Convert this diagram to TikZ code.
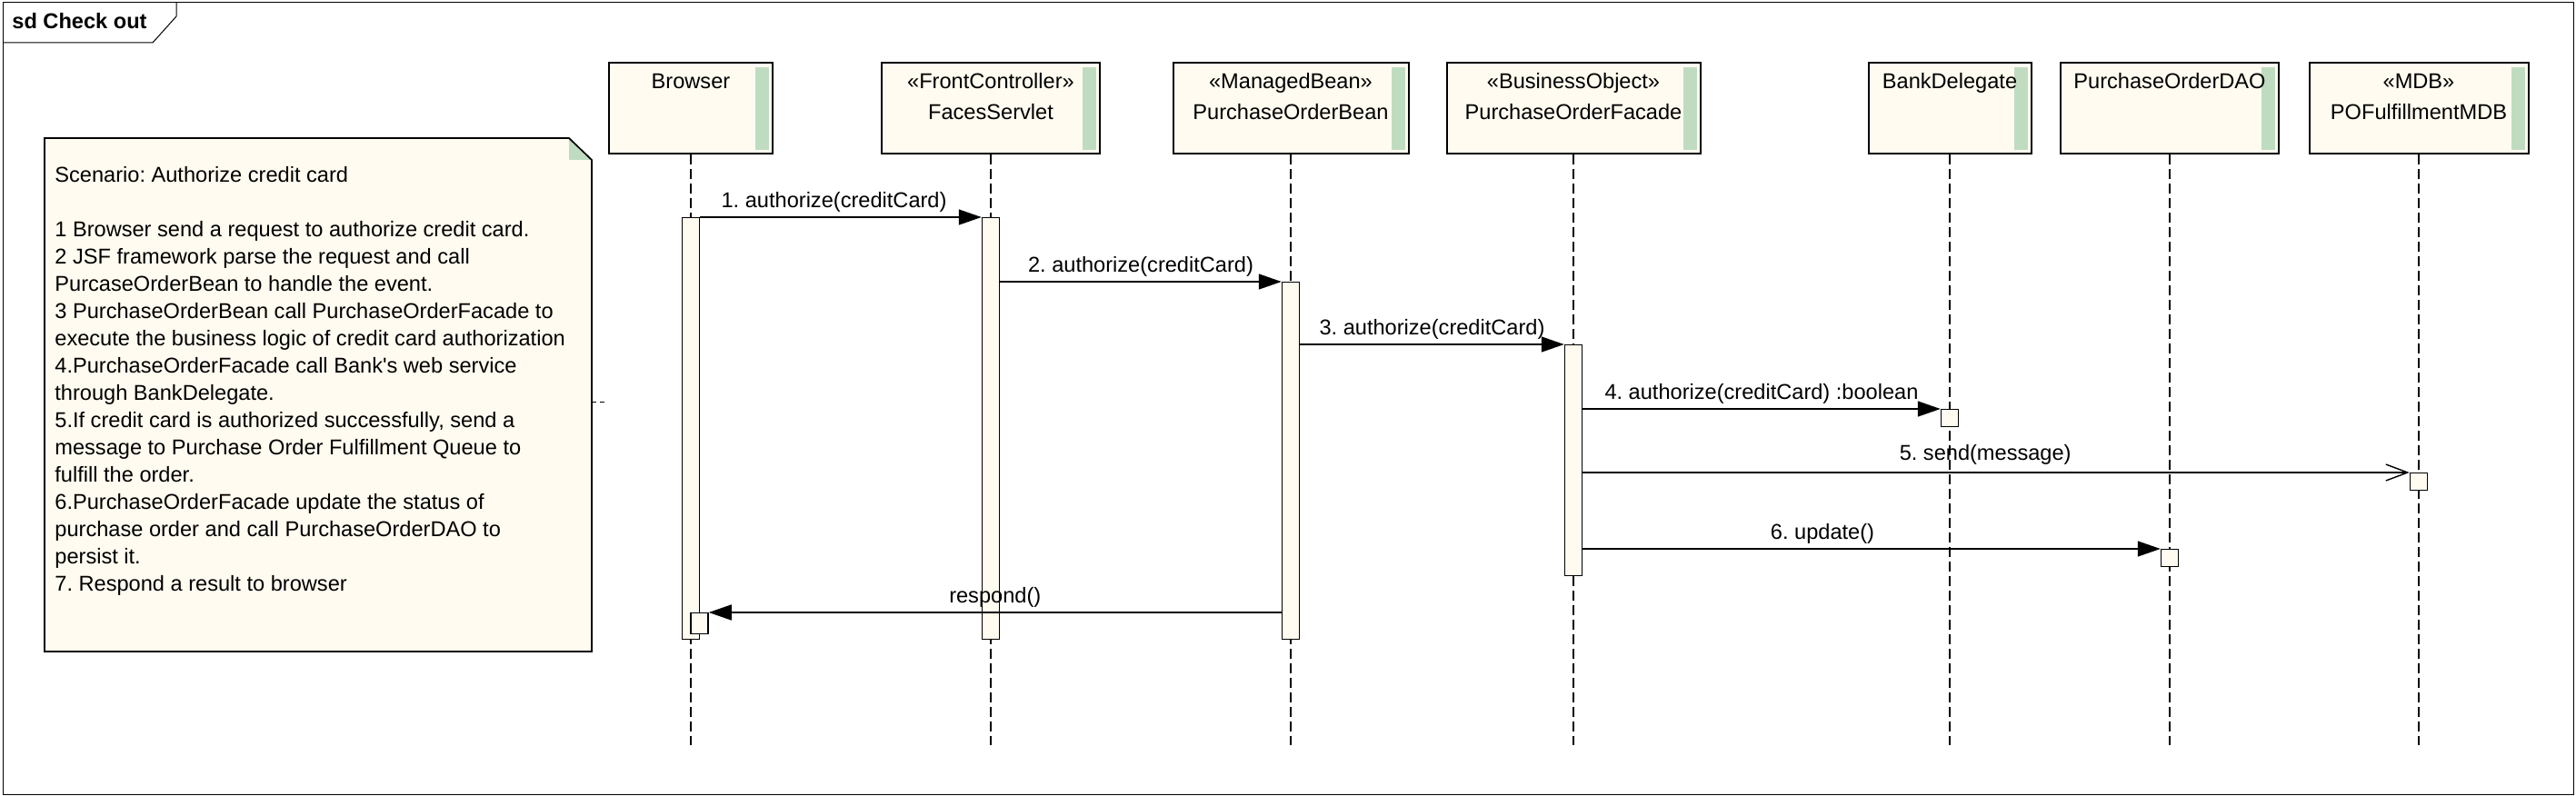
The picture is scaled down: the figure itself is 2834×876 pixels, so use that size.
\documentclass[tikz,border=0pt]{standalone}
\usepackage{fontspec}
\setmainfont{Liberation Sans}[Ligatures=TeXOff]
\usepackage{tikz}
\usetikzlibrary{shapes,arrows.meta,positioning}
\definecolor{cream}{RGB}{255,251,240}
\definecolor{stripgreen}{RGB}{192,220,192}
\tikzstyle{head} = [rectangle, draw, line width=1pt, fill=cream, minimum height=50pt, inner sep=0pt, path picture={\fill[stripgreen] ([xshift=-9.5pt,yshift=-2.5pt]path picture bounding box.north east) rectangle ([xshift=-2pt,yshift=2pt]path picture bounding box.south east);}]
\tikzstyle{headtext} = [anchor=north, inner sep=0pt, align=center, font=\fontsize{11.8pt}{17pt}\selectfont]
\tikzstyle{act} = [rectangle, draw, line width=0.75pt, fill=cream, minimum width=9.5pt, inner sep=0pt, anchor=north]
\tikzstyle{lifeline} = [draw, line width=0.6pt, dash pattern=on 5.5pt off 2.5pt]
\tikzstyle{msg} = [draw, line width=0.7pt, -{Triangle[length=12.5pt,width=8.5pt]}]
\tikzstyle{async} = [draw, line width=0.7pt, -{Straight Barb[length=12pt,width=9pt,line width=0.7pt]}]
\tikzstyle{msglabel} = [midway, anchor=base, yshift=5pt, inner sep=0pt, font=\fontsize{11.8pt}{14pt}\selectfont]

\begin{document}
\frenchspacing
\begin{tikzpicture}[x=0.5pt, y=-0.5pt]
			\useasboundingbox (0,0) rectangle (2834,876);
			\draw [line width=0.5pt, fill=white] (3,3) rectangle (2831,874);
			\draw [line width=0.5pt] (3,47) -- (168,47) -- (194,18) -- (194,3);
			\node [anchor=west, inner sep=0pt, font=\fontsize{11.8pt}{14pt}\selectfont\bfseries] (sdtitle) at (13,23) {sd Check out};

			% note
			\fill [cream] (49,152) -- (626,152) -- (651,176) -- (651,717) -- (49,717) -- cycle;
			\fill [stripgreen] (626,152) -- (651,176) -- (626,176) -- cycle;
			\draw [line width=0.85pt] (49,152) -- (626,152) -- (651,176) -- (651,717) -- (49,717) -- cycle;
			\node [anchor=north west, inner sep=0pt, align=left, font=\fontsize{11.8pt}{15pt}\selectfont] (scenario) at (60,183) {Scenario: Authorize credit card\\[15pt]
				1 Browser send a request to authorize credit card.\\
				2 JSF framework parse the request and call\\
				PurcaseOrderBean to handle the event.\\
				3 PurchaseOrderBean call PurchaseOrderFacade to\\
				execute the business logic of credit card authorization\\
				4.PurchaseOrderFacade call Bank's web service\\
				through BankDelegate.\\
				5.If credit card is authorized successfully, send a\\
				message to Purchase Order Fulfillment Queue to\\
				fulfill the order.\\
				6.PurchaseOrderFacade update the status of\\
				purchase order and call PurchaseOrderDAO to\\
				persist it.\\
				7. Respond a result to browser};
			\coordinate (noteedge) at (651,443);
			\coordinate (notelink) at (667,443);
			\draw [line width=0.5pt, dash pattern=on 2.5pt off 2pt] (noteedge) -- (notelink);

			% lifeline heads
			\node [head, minimum width=90pt] (browser) at (760,119) {};
			\node [head, minimum width=120pt] (faces) at (1090,119) {};
			\node [head, minimum width=129.5pt] (bean) at (1420,119) {};
			\node [head, minimum width=139.5pt] (facade) at (1731,119) {};
			\node [head, minimum width=89.5pt] (bank) at (2145,119) {};
			\node [head, minimum width=120pt] (dao) at (2387,119) {};
			\node [head, minimum width=120.5pt] (mdb) at (2661,119) {};

			\node [headtext] (browsername) at (760,80.5) {Browser};
			\node [headtext] (facesname) at (1090,80.5) {«FrontController»\\FacesServlet};
			\node [headtext] (beanname) at (1420,80.5) {«ManagedBean»\\PurchaseOrderBean};
			\node [headtext] (facadename) at (1731,80.5) {«BusinessObject»\\PurchaseOrderFacade};
			\node [headtext] (bankname) at (2145,80.5) {BankDelegate};
			\node [headtext] (daoname) at (2387,80.5) {PurchaseOrderDAO};
			\node [headtext] (mdbname) at (2661,80.5) {«MDB»\\POFulfillmentMDB};

			\coordinate (lifeend) at (0,820);
			\foreach \n in {browser, faces, bean, facade, bank, dao, mdb}
				\path [lifeline] (\n.south) -- (\n.south |- lifeend);

			% activations
			\node [act, minimum height=232pt] (browseract) at (760,239) {};
			\node [act, minimum height=11.5pt] (browsersub) at (769.5,674) {};
			\node [act, minimum height=232pt] (facesact) at (1090,239) {};
			\node [act, minimum height=196.5pt] (beanact) at (1420,310) {};
			\node [act, minimum height=127pt] (facadeact) at (1731,379) {};
			\node [act, minimum height=9.5pt] (bankact) at (2145,450) {};
			\node [act, minimum height=9.5pt] (mdbact) at (2661,520) {};
			\node [act, minimum height=9.5pt] (daoact) at (2387,604) {};

			% messages
			\path [msg] (browseract.north east) -- (facesact.north west) node [msglabel, pos=0.476] (m1) {1. authorize(creditCard)};
			\path [msg] (facesact.east |- beanact.north) -- (beanact.north west) node [msglabel] (m2) {2. authorize(creditCard)};
			\path [msg] (beanact.east |- facadeact.north) -- (facadeact.north west) node [msglabel] (m3) {3. authorize(creditCard)};
			\path [msg] (facadeact.east |- bankact.north) -- (bankact.north west) node [msglabel] (m4) {4. authorize(creditCard) :boolean};
			\path [async] (facadeact.east |- mdbact.north) -- (mdbact.north west) node [msglabel, pos=0.487, yshift=1.5pt] (m5) {5. send(message)};
			\path [msg] (facadeact.east |- daoact.north) -- (daoact.north west) node [msglabel, pos=0.415] (m6) {6. update()};
			\path [msg] (beanact.west |- browsersub.north) -- (browsersub.north east) node [msglabel] (m7) {respond()};
		\end{tikzpicture}
\end{document}
